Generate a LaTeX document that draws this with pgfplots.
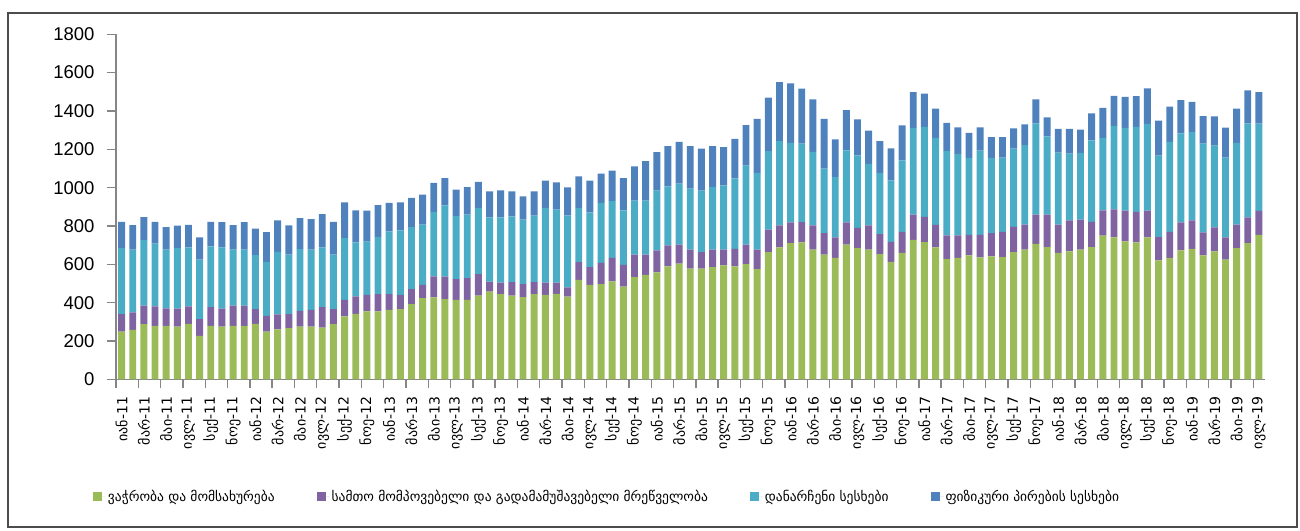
\documentclass[border=0pt]{standalone}
\usepackage{fontspec}
\setmainfont{Liberation Sans}
\newfontfamily\geo{DejaVu Sans}
\usepackage{pgfplots}
\usepackage{pgfplotstable}
\pgfplotsset{compat=1.18}
\definecolor{cgreen}{HTML}{9BBB59}
\definecolor{cpurple}{HTML}{8064A2}
\definecolor{ccyan}{HTML}{4BACC6}
\definecolor{cblue}{HTML}{4F81BD}
\definecolor{axgray}{HTML}{868686}
\pgfplotstableread{
x g p c b
0 249 91 345 136
1 258 91 328 127
2 288 96 342 120
3 279 101 328 113
4 279 91 307 117
5 275 94 315 118
6 289 91 308 118
7 227 87 310 117
8 279 98 317 127
9 275 94 319 132
10 279 105 293 127
11 279 105 293 143
12 289 77 282 138
13 249 82 282 155
14 261 78 326 164
15 267 73 310 153
16 275 82 322 162
17 275 87 314 160
18 270 106 312 174
19 288 78 284 171
20 328 87 322 186
21 342 91 282 166
22 354 87 277 162
23 354 91 298 166
24 362 82 328 148
25 366 75 336 146
26 392 78 324 152
27 423 70 314 157
28 427 110 336 152
29 418 118 371 143
30 415 108 328 139
31 415 113 331 143
32 436 113 345 136
33 458 52 335 136
34 444 61 340 141
35 436 71 343 131
36 429 68 336 122
37 444 63 347 127
38 441 64 389 143
39 446 59 380 143
40 432 47 376 146
41 519 92 282 166
42 493 92 286 166
43 497 110 314 152
44 511 122 296 160
45 484 113 284 169
46 533 117 282 179
47 545 105 282 206
48 558 115 312 200
49 589 110 308 209
50 603 99 319 218
51 577 99 319 221
52 577 87 321 218
53 585 91 326 214
54 594 82 336 199
55 589 91 368 207
56 601 101 413 211
57 575 101 401 282
58 664 117 409 279
59 688 115 439 308
60 711 108 415 310
61 714 106 409 288
62 676 127 383 274
63 650 113 336 260
64 633 108 314 197
65 702 117 375 211
66 685 105 378 188
67 676 127 321 174
68 653 105 319 166
69 612 105 321 167
70 659 110 373 183
71 728 131 453 186
72 716 131 470 174
73 688 118 453 153
74 627 124 439 148
75 633 118 425 139
76 646 108 401 131
77 636 118 439 122
78 641 122 392 108
79 638 131 387 108
80 664 131 408 106
81 676 131 415 108
82 706 153 476 125
83 690 169 409 99
84 659 148 375 125
85 667 162 348 129
86 676 157 348 122
87 690 131 425 141
88 749 132 378 157
89 741 145 436 157
90 720 160 432 162
91 714 159 444 160
92 741 139 453 185
93 620 122 425 183
94 633 136 470 183
95 673 146 464 173
96 681 148 460 159
97 646 120 464 143
98 667 125 427 153
99 624 117 415 157
100 685 122 427 178
101 711 134 490 173
102 754 125 455 164
}\datatable
\begin{document}
\begin{tikzpicture}[x=1pt,y=1pt]
\useasboundingbox (0,0) rectangle (1300,530);
\draw[line width=1.6pt, black!70] (8,3) rectangle (1297,517);
\begin{axis}[
  at={(116pt,150.7pt)}, anchor=south west,
  scale only axis, width=1148.5pt, height=345pt,
  ybar stacked, bar width=0.62,
  xmin=-0.5, xmax=102.5, ymin=0, ymax=1800,
  axis lines*=left,
  axis line style={draw=axgray, line width=1.4pt},
  tick align=outside, major tick length=9pt,
  ytick={0,200,...,1800},
  ytick style={draw=axgray, line width=1.4pt},
  /pgf/number format/assume math mode=true,
  /pgf/number format/1000 sep={},
  yticklabel style={font=\fontsize{18.5}{18.5}\selectfont, xshift=-9pt},
  xtick={0,2,...,102},
  xtick style={draw=none},
  extra x ticks={-0.5,1.5,...,101.5},
  extra x tick labels={},
  extra x tick style={xtick style={draw=axgray, line width=1.4pt}},
  xticklabels={იან-11,მარ-11,მაი-11,ივლ-11,სექ-11,ნოე-11,
    იან-12,მარ-12,მაი-12,ივლ-12,სექ-12,ნოე-12,
    იან-13,მარ-13,მაი-13,ივლ-13,სექ-13,ნოე-13,
    იან-14,მარ-14,მაი-14,ივლ-14,სექ-14,ნოე-14,
    იან-15,მარ-15,მაი-15,ივლ-15,სექ-15,ნოე-15,
    იან-16,მარ-16,მაი-16,ივლ-16,სექ-16,ნოე-16,
    იან-17,მარ-17,მაი-17,ივლ-17,სექ-17,ნოე-17,
    იან-18,მარ-18,მაი-18,ივლ-18,სექ-18,ნოე-18,
    იან-19,მარ-19,მაი-19,ივლ-19},
  xticklabel style={font=\geo\fontsize{14}{14}\selectfont, rotate=90, anchor=east},
  xticklabel shift=5pt,
  legend columns=4,
  legend style={at={(0.4275,-0.341)}, anchor=center, draw=none,
    font=\geo\fontsize{13.5}{15}\selectfont,
    /tikz/every even column/.append style={column sep=40pt}},
  legend image code/.code={\fill[#1] (0pt,-4.5pt) rectangle (9pt,4.5pt); \path (0pt,0pt) -- (13pt,0pt);},
]
\addplot[fill=cgreen, draw=none] table[x=x, y=g] {\datatable};
\addplot[fill=cpurple, draw=none] table[x=x, y=p] {\datatable};
\addplot[fill=ccyan, draw=none] table[x=x, y=c] {\datatable};
\addplot[fill=cblue, draw=none] table[x=x, y=b] {\datatable};
\legend{ვაჭრობა და მომსახურება, სამთო მომპოვებელი და გადამამუშავებელი მრეწველობა, დანარჩენი სესხები, ფიზიკური პირების სესხები}
\end{axis}
\end{tikzpicture}
\end{document}
